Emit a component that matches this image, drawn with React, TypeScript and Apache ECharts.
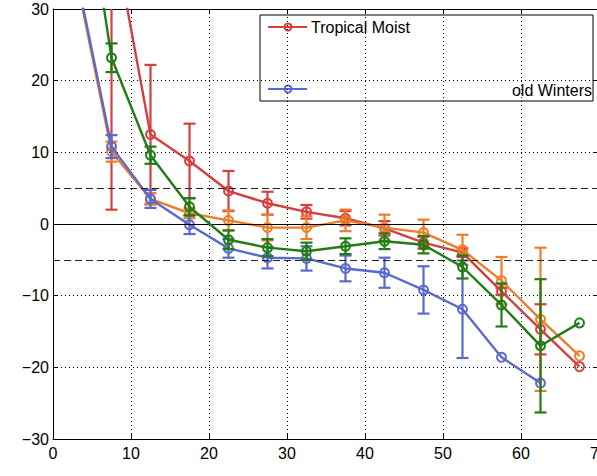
import React, { useEffect, useRef } from "react";
import * as echarts from "echarts";

const xs = [2.5, 7.5, 12.5, 17.5, 22.5, 27.5, 32.5, 37.5, 42.5, 47.5, 52.5, 57.5, 62.5, 67.5];

const redVals = [null, 42, 12.5, 8.8, 4.6, 2.9, 1.7, 0.8, -0.6, -2.6, -4.0, -9.4, -14.7, -19.9];
const redErr = [null, 40, 9.7, 5.2, 2.8, 1.6, 0.95, 1.0, 1.0, 0.85, 0.6, 0.5, 3.5, null];

const orangeVals = [37, 10.1, 3.5, 1.5, 0.5, -0.5, -0.5, 0.5, -0.5, -1.2, -3.6, -7.9, -13.3, -18.4];
const orangeErr = [null, 1.4, 0.8, 0.7, 1.4, 1.8, 1.6, 1.5, 1.8, 1.8, 2.1, 3.3, 10.0, null];

const greenVals = [59, 23.2, 9.6, 2.4, -2.2, -3.3, -3.8, -3.1, -2.4, -2.9, -6.0, -11.3, -17.0, -13.8];
const greenErr = [null, 2.0, 1.2, 1.2, 1.3, 1.2, 1.2, 1.1, 1.1, 1.2, 1.6, 3.0, 9.3, null];

const blueVals = [37.5, 10.8, 3.5, -0.1, -3.4, -4.7, -4.8, -6.2, -6.8, -9.2, -11.9, -18.6, -22.2, null];
const blueErr = [null, 1.6, 1.25, 1.3, 1.3, 1.5, 1.7, 1.8, 2.1, 3.3, 6.8, null, null, null];

const refLines = [0, 5, -5];

const xTicks = { min: 0, max: 70, interval: 10 };
const yTicks = { min: -30, max: 30, interval: 10 };

const legendNames = ["Tropical Moist", "old Winters"];

const FONT = "'Liberation Sans', Arial, Helvetica, sans-serif";

const RED = "#d43f3f";
const ORANGE = "#ee7d2a";
const GREEN = "#1f7d14";
const BLUE = "#5a6acc";

function lineData(vals: (number | null)[]) {
  return xs.map((x, i) => (vals[i] == null ? [x, null] : [x, vals[i]]));
}

function errData(vals: (number | null)[], errs: (number | null)[]) {
  const out: number[][] = [];
  xs.forEach((x, i) => {
    const v = vals[i];
    const e = errs[i];
    if (v != null && e != null) out.push([x, v - e, v + e]);
  });
  return out;
}

function makeLine(name: string, color: string, vals: (number | null)[], z: number) {
  return {
    name,
    type: "line",
    data: lineData(vals),
    z,
    symbol: "circle",
    symbolSize: 9,
    showSymbol: true,
    clip: true,
    lineStyle: { color, width: 2.4 },
    itemStyle: { color: "rgba(0,0,0,0)", borderColor: color, borderWidth: 2 },
    emphasis: { disabled: true },
  };
}

function makeErr(color: string, vals: (number | null)[], errs: (number | null)[], z: number) {
  return {
    type: "custom",
    z,
    clip: true,
    data: errData(vals, errs),
    encode: { x: 0, y: [1, 2] },
    renderItem: (params: any, api: any) => {
      const x = api.value(0);
      const lo = api.value(1);
      const hi = api.value(2);
      const p1 = api.coord([x, lo]);
      const p2 = api.coord([x, hi]);
      const w = 6;
      const style = { stroke: color, lineWidth: 2.2 };
      return {
        type: "group",
        children: [
          { type: "line", shape: { x1: p1[0], y1: p1[1], x2: p2[0], y2: p2[1] }, style },
          { type: "line", shape: { x1: p1[0] - w, y1: p1[1], x2: p1[0] + w, y2: p1[1] }, style },
          { type: "line", shape: { x1: p2[0] - w, y1: p2[1], x2: p2[0] + w, y2: p2[1] }, style },
        ],
      };
    },
  };
}

const minus = (v: number) => String(v).replace("-", "\u2212");

export default function App() {
  const ref = useRef<HTMLDivElement>(null);
  useEffect(() => {
    document.body.style.margin = "0";
    const chart = echarts.init(ref.current!, null, { renderer: "svg" });
    const axisLine = { onZero: false, lineStyle: { color: "#000", width: 1 } };
    const tick = { inside: true, length: 5, lineStyle: { color: "#000", width: 1 } };
    const label = { color: "#000", fontSize: 16, fontFamily: FONT };
    const split = { show: true, lineStyle: { color: "#000", width: 1, type: [1, 3] } };
    const option: any = {
      animation: false,
      grid: { left: 53, right: -2, top: 9, bottom: 37, containLabel: false, outerBoundsMode: "none" },
      xAxis: [
        {
          type: "value", ...xTicks, position: "bottom",
          axisLine, axisTick: tick,
          axisLabel: { ...label, margin: 6, formatter: minus },
          splitLine: split,
        },
        {
          type: "value", ...xTicks, position: "top",
          axisLine, axisTick: tick, axisLabel: { show: false }, splitLine: { show: false },
        },
      ],
      yAxis: [
        {
          type: "value", ...yTicks, position: "left",
          axisLine, axisTick: tick,
          axisLabel: { ...label, margin: 4, formatter: minus },
          splitLine: split,
        },
        {
          type: "value", ...yTicks, position: "right",
          axisLine, axisTick: tick, axisLabel: { show: false }, splitLine: { show: false },
        },
      ],
      series: [
        {
          type: "line",
          data: [],
          z: 1,
          markLine: {
            silent: true,
            symbol: "none",
            label: { show: false },
            animation: false,
            data: refLines.map((v) => ({
              yAxis: v,
              lineStyle: v === 0
                ? { color: "#000", width: 1, type: "solid" }
                : { color: "#222", width: 1, type: [7, 4] },
            })),
          },
        },
        makeLine(legendNames[0], RED, redVals, 2),
        makeErr(RED, redVals, redErr, 2),
        makeLine("Orange", ORANGE, orangeVals, 3),
        makeErr(ORANGE, orangeVals, orangeErr, 3),
        makeLine("Blue", BLUE, blueVals, 4),
        makeErr(BLUE, blueVals, blueErr, 4),
        makeLine("Green", GREEN, greenVals, 5),
        makeErr(GREEN, greenVals, greenErr, 5),
      ],
      graphic: [
        {
          type: "group",
          z: 100,
          children: [
            { type: "rect", shape: { x: 260, y: 15, width: 333, height: 86 }, style: { fill: "#fff", stroke: "#000", lineWidth: 1 } },
            { type: "line", shape: { x1: 268, y1: 27, x2: 307, y2: 27 }, style: { stroke: RED, lineWidth: 2 } },
            { type: "circle", shape: { cx: 288, cy: 27, r: 3.5 }, style: { fill: "none", stroke: RED, lineWidth: 2 } },
            { type: "text", x: 311, y: 27, style: { text: legendNames[0], fill: "#000", fontSize: 16, fontFamily: FONT, verticalAlign: "middle", align: "left" } },
            { type: "line", shape: { x1: 268, y1: 89, x2: 307, y2: 89 }, style: { stroke: BLUE, lineWidth: 2 } },
            { type: "circle", shape: { cx: 288, cy: 89, r: 3.5 }, style: { fill: "none", stroke: BLUE, lineWidth: 2 } },
            { type: "text", x: 592, y: 90, style: { text: legendNames[1], fill: "#000", fontSize: 16, fontFamily: FONT, verticalAlign: "middle", align: "right" } },
          ],
        },
      ],
    };
    chart.setOption(option);
    return () => chart.dispose();
  }, []);
  return <div ref={ref} style={{ width: 597, height: 476 }} />;
}
